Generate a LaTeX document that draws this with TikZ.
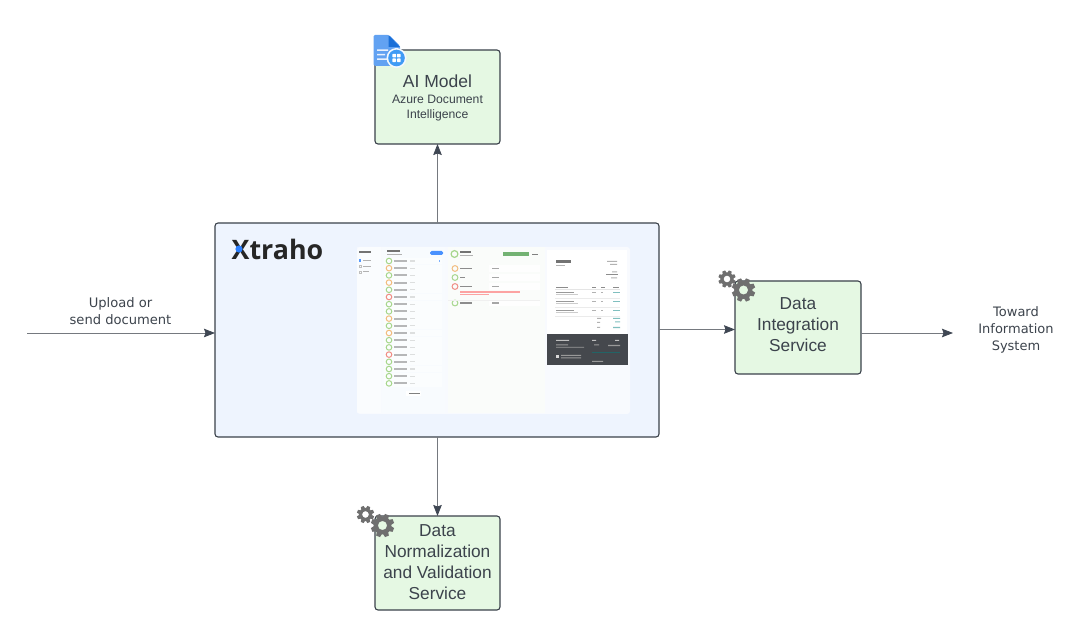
\documentclass[tikz,border=0pt]{standalone}
\usepackage{fontspec}
\setmainfont{Liberation Sans}
\newfontfamily\logofont{Open Sans}
\newfontfamily\labfont{DejaVu Sans}
\usetikzlibrary{arrows.meta,calc}
\definecolor{linec}{HTML}{3A414A}
\definecolor{arrowc}{HTML}{75797F}
\definecolor{tipc}{HTML}{3F4753}
\definecolor{greenf}{HTML}{E5F8E3}
\definecolor{bluef}{HTML}{EEF4FE}
\definecolor{textc}{HTML}{3C434C}
\definecolor{gearc}{HTML}{6F6F6F}
\definecolor{docblue}{HTML}{62A2F2}
\definecolor{docdark}{HTML}{1A6FD8}
\definecolor{circblue}{HTML}{3F9BF5}
\definecolor{dot}{HTML}{2B7FFF}
\definecolor{okc}{HTML}{A6D68C}
\definecolor{warnc}{HTML}{F2BC7E}
\definecolor{badc}{HTML}{F08C84}
\definecolor{darkp}{HTML}{45484D}
\definecolor{midp}{HTML}{FAFCFA}
\newcommand{\gearicon}[3]{%
  \begin{scope}[shift={(#1,#2)}]
    \fill[gearc,even odd rule] (0,0) circle[radius=#3*0.78] (0,0) circle[radius=#3*0.40];
    \foreach \a in {0,45,...,315}{
      \fill[gearc,rotate=\a+22.5] (#3*0.7,-#3*0.24) -- (#3*1.02,-#3*0.18) -- (#3*1.02,#3*0.18) -- (#3*0.7,#3*0.24) -- cycle;
    }
  \end{scope}}
\newcommand{\rowitem}[2]{%
  \fill[white,opacity=.55] (384,#1-3.4) rectangle (442,#1+3.4);
  \draw[#2,line width=1pt] (389,#1) circle[radius=2.8];
  \fill[black!55,opacity=.5] (393.5,#1-1) rectangle (407,#1+1);
  \fill[black!30,opacity=.4] (410,#1-.6) rectangle (414.5,#1+.6);}
\tikzset{
  box/.style={draw=linec,line width=1.1pt,rounded corners=3pt,fill=greenf,text=textc,
    align=center,anchor=north west,inner sep=0pt,outer sep=0pt},
  mainbox/.style={draw=linec,line width=1.1pt,rounded corners=3pt,fill=bluef,anchor=north west,inner sep=0pt,outer sep=0pt},
  conn/.style={draw=arrowc,line width=.8pt,-{Stealth[length=11pt,width=8.5pt,color=tipc,inset=1.5pt]}},
  lab/.style={text=textc,align=center,font=\labfont\fontsize{13.1}{16.5}\selectfont},
  gtext/.style={font=\fontsize{17.3}{21}\selectfont},
}
\begin{document}
\begin{tikzpicture}[x=1pt,y=-1pt]
\useasboundingbox (0,0) rectangle (1080,628);
% main container
\node[mainbox,minimum width=444pt,minimum height=214pt] (main) at (215,223) {};
% boxes
\node[box,minimum width=125pt,minimum height=94pt] (ai) at (375,50) {};
\node[text=textc,font=\fontsize{17.5}{20}\selectfont] (aititle) at (437.5,81) {AI Model};
\node[text=textc,align=center,font=\fontsize{12.2}{15}\selectfont] (aisub) at (437.5,108.5) {Azure Document\\Intelligence};
\node[box,minimum width=126pt,minimum height=93pt] (di) at (735,281) {};
\node[text=textc,align=center,gtext] (ditext) at (798,324.5) {Data\\Integration\\Service};
\node[box,minimum width=125pt,minimum height=94pt] (dn) at (375,516) {};
\node[text=textc,align=center,gtext] (dntext) at (437.5,562.5) {Data\\Normalization\\and Validation\\Service};
% free ends
\coordinate (src) at (27,333);
\coordinate (sink) at (953,333);
% connectors
\draw[conn] (main.north -| ai.south) -- (ai.south);
\draw[conn] (main.south -| dn.north) -- (dn.north);
\draw[conn] (src) -- (src -| main.west);
\draw[conn] (main.east |- 0,329.5) -- (di.west |- 0,329.5);
\draw[conn] (di.east |- sink) -- (sink);
% labels
\node[lab] (upload) at (120.5,311) {Upload or\\send document};
\node[lab,font=\labfont\fontsize{13}{17}\selectfont] (toward) at (1016,330) {Toward\\Information\\System};
% logo
\node[anchor=west,inner sep=0pt,text=black!85,font=\logofont\bfseries\fontsize{26.8}{30}\selectfont] (logo) at (231.5,249) {Xtraho};
\fill[dot] (239,249) circle[radius=3.6];
% screenshot
\fill[white,opacity=.6,rounded corners=3pt] (357,247) rectangle (630,414);
\fill[white,opacity=.4] (357,247) rectangle (381,413);
\fill[bluef!40!white] (382,247) rectangle (445,413);
\fill[midp] (448,247) rectangle (545,413);
% sidebar
\fill[black!55] (359,251.5) rectangle (371,253.5);
\fill[dot,opacity=.8] (358.5,259.5) rectangle (361,262);
\fill[black!30] (363,260) rectangle (371,261.5);
\draw[black!25,line width=.4pt] (358.7,265.5) rectangle (361,267.5);
\fill[black!30] (363,265.8) rectangle (371,267);
\draw[black!25,line width=.4pt] (358.7,271) rectangle (361,273);
\fill[black!30] (363,271.2) rectangle (369,272.4);
% list header
\fill[black!55] (387,250.5) rectangle (400,252.5);
\fill[black!30] (387,254) rectangle (402,255);
\fill[dot,opacity=.85,rounded corners=1.5pt] (430,251) rectangle (443,255);
% list rows
\rowitem{261.0}{okc}\rowitem{268.2}{warnc}\rowitem{275.4}{okc}\rowitem{282.6}{warnc}
\rowitem{289.8}{okc}\rowitem{297.0}{badc}\rowitem{304.2}{okc}\rowitem{311.4}{okc}
\rowitem{318.6}{warnc}\rowitem{325.8}{okc}\rowitem{333.0}{warnc}\rowitem{340.2}{okc}
\rowitem{347.4}{okc}\rowitem{354.6}{badc}\rowitem{361.8}{okc}\rowitem{369.0}{okc}
\rowitem{376.2}{okc}\rowitem{383.4}{okc}
\fill[dot,opacity=.6] (438.5,260.2) rectangle (440,261.8);
\fill[white] (406,391) rectangle (421,396);
\fill[black!50] (409,393) rectangle (420,394.3);
% middle panel
\draw[okc,line width=1.2pt] (454.5,254) circle[radius=3.4];
\fill[black!55] (460,251) rectangle (471,253);
\fill[black!30] (460,255) rectangle (473,256);
\fill[green!45!black!55!white] (503,252.5) rectangle (529,256.5);
\fill[black!50] (532,254) rectangle (538,255.5);
\foreach \yy/\cc/\ww in {268.5/warnc/12,277.5/okc/5,286.5/badc/12,303/okc/12}{
  \fill[white,opacity=.9] (489,\yy-3.4) rectangle (540,\yy+3.4);
  \draw[\cc,line width=1pt] (455,\yy) circle[radius=2.9];
  \fill[black!45] (460,\yy-.9) rectangle (460+\ww,\yy+.9);
  \fill[black!35] (492,\yy-.8) rectangle (499,\yy+.8);
}
\fill[red!70!white,opacity=.5] (460,291.2) rectangle (520,292.6);
\fill[red!70!white,opacity=.5] (460,293.8) rectangle (489,295.2);
\draw[black!6,line width=.4pt] (448,300) -- (540,300);
% invoice
\fill[white] (547,250) rectangle (627,334);
\fill[black!55] (556,260) rectangle (571,263);
\fill[black!30] (556,265) rectangle (565,266);
\fill[black!30] (607,261) rectangle (617,262) (610,264) rectangle (617,265);
\fill[black!45] (606,274) rectangle (618,275.5);
\fill[black!30] (612,271.5) rectangle (617,272.5) (611,277.5) rectangle (617,278.5);
\foreach \xx/\ww in {556/12,592/3.5,601/4,613/6}{\fill[black!45] (\xx,287) rectangle (\xx+\ww,288);}
\draw[black!10,line width=.4pt] (555,289.5) -- (620,289.5);
\foreach \yy in {292,301,310}{
  \fill[black!40] (556,\yy) rectangle (574,\yy+1);
  \fill[black!20] (556,\yy+2.5) rectangle (578,\yy+3.3);
  \fill[black!30] (592,\yy) rectangle (596,\yy+1);
  \fill[black!30] (601,\yy) rectangle (603,\yy+1);
  \fill[teal!50!white] (613,\yy) rectangle (620,\yy+1);
  \draw[black!8,line width=.3pt] (555,\yy+6.5) -- (620,\yy+6.5);
}
\fill[black!30] (597,318) rectangle (601,319) (597,322) rectangle (600,322.8) (597,327) rectangle (600,328);
\fill[teal!50!white] (613,318) rectangle (620,319) (615,321.5) rectangle (620,322.5) (613,327) rectangle (620,328.2);
\fill[darkp] (546.5,334) rectangle (627.5,365.5);
\fill[white!75!black] (556,340) rectangle (569,341) (592,340) rectangle (596,341) (615,340) rectangle (619,341);
\fill[white!60!black] (556,344.5) rectangle (568,345.3) (556,346.8) rectangle (584,347.6) (594,344.5) rectangle (599,345.5) (608,345) rectangle (620,346.2);
\fill[white!85!black] (556,355) rectangle (558.5,358.5);
\fill[white!60!black] (561,355) rectangle (581,355.8) (561,357.5) rectangle (581,358.3) (592,361) rectangle (603,361.8);
\draw[teal!50!darkp,line width=.4pt] (592,352.5) -- (620,352.5);
% icons
\gearicon{727}{279}{8.5}
\gearicon{743.5}{290}{11.5}
\gearicon{365.5}{514.5}{8.5}
\gearicon{382.5}{525.5}{11.5}
% document icon
\fill[docblue,rounded corners=1.5pt] (373.5,35) -- (389,35) -- (400,46) -- (400,66) -- (373.5,66) -- cycle;
\fill[docdark] (388.5,35) -- (400,47) -- (388.5,47) -- cycle;
\fill[white!85!docblue] (377,49.5) rectangle (388,51) (377,54) rectangle (385,55.5) (377,58.5) rectangle (388,60);
\fill[white!92!docblue] (396.5,58) circle[radius=10];
\fill[circblue] (396.5,58) circle[radius=8.3];
\fill[white,rounded corners=.7pt] (392.3,53.8) rectangle (396,57.5) (397,53.8) rectangle (400.7,57.5) (392.3,58.5) rectangle (396,62.2) (397,58.5) rectangle (400.7,62.2);
\end{tikzpicture}
\end{document}
